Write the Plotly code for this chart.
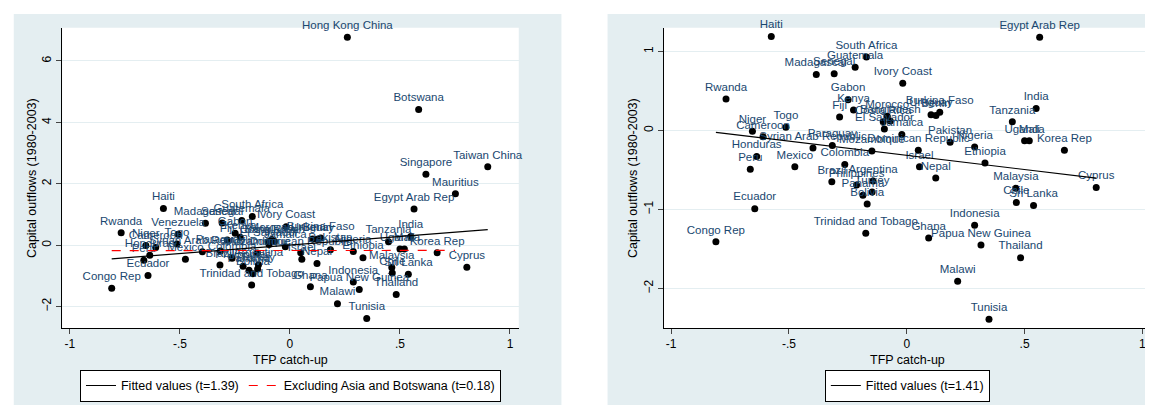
import numpy as np
import plotly.graph_objects as go

# Countries shown in both panels: (TFP catch-up, capital outflows)
countries = ["Haiti", "Egypt Arab Rep", "South Africa", "Guatemala", "Senegal", "Madagascar",
             "Ivory Coast", "Rwanda", "Gabon", "Kenya", "Fiji", "Morocco", "Bangladesh",
             "Burkina Faso", "Uruguay", "Benin", "India", "Tanzania", "Costa Rica", "El Salvador",
             "Jamaica", "Syrian Arab Republic", "Niger", "Togo", "Cameroon", "Honduras", "Peru",
             "Mexico", "Paraguay", "Mozambique", "Dominican Republic", "Pakistan", "Nigeria",
             "Uganda", "Mali", "Korea Rep", "Colombia", "Israel", "Nepal", "Ethiopia", "Brazil",
             "Argentina", "Philippines", "Turkey", "Panama", "Bolivia", "Malaysia", "Chile",
             "Sri Lanka", "Cyprus", "Ecuador", "Congo Rep", "Trinidad and Tobago", "Indonesia",
             "Ghana", "Papua New Guinea", "Thailand", "Malawi", "Tunisia"]
tfp = [-0.575, 0.564, -0.171, -0.219, -0.308, -0.384, -0.017, -0.767, -0.249, -0.226, -0.285,
       -0.083, -0.07, 0.14, 0.103, 0.124, 0.549, 0.448, -0.10, -0.095, -0.021, -0.398, -0.655,
       -0.513, -0.61, -0.637, -0.664, -0.475, -0.316, -0.148, 0.049, 0.184, 0.288, 0.50, 0.52,
       0.669, -0.263, 0.054, 0.123, 0.332, -0.318, -0.143, -0.213, -0.147, -0.186, -0.168,
       0.463, 0.465, 0.538, 0.804, -0.645, -0.81, -0.174, 0.288, 0.093, 0.315, 0.483, 0.216, 0.349]
outflows = [1.19, 1.18, 0.93, 0.80, 0.72, 0.71, 0.60, 0.40, 0.39, 0.26, 0.17, 0.18, 0.12, 0.23,
            0.20, 0.19, 0.28, 0.11, 0.11, 0.02, -0.05, -0.22, -0.01, 0.04, -0.08, -0.33, -0.49,
            -0.46, -0.19, -0.26, -0.25, -0.15, -0.21, -0.13, -0.13, -0.25, -0.43, -0.46, -0.60,
            -0.41, -0.65, -0.64, -0.69, -0.78, -0.82, -0.93, -0.73, -0.91, -0.95, -0.72, -0.99,
            -1.41, -1.30, -1.20, -1.36, -1.45, -1.61, -1.91, -2.39]

# Extra countries only in the left panel
extra_countries = ["Hong Kong China", "Botswana", "Taiwan China", "Singapore", "Mauritius", "Venezuela"]
extra_tfp = [0.261, 0.585, 0.899, 0.618, 0.752, -0.508]
extra_outflows = [6.77, 4.42, 2.55, 2.31, 1.67, 0.35]

asia = ["India", "Korea Rep", "Malaysia", "Thailand", "Indonesia", "Philippines", "Sri Lanka",
        "Nepal", "Pakistan", "Bangladesh", "Fiji", "Papua New Guinea",
        "Hong Kong China", "Taiwan China", "Singapore", "Botswana"]

NAVY = "#1a476f"
BG = "#e4eef1"

left_names = countries + extra_countries
left_x = np.array(tfp + extra_tfp)
left_y = np.array(outflows + extra_outflows)
right_x = np.array(tfp)
right_y = np.array(outflows)

fig = go.Figure()

def labelled(x, y, names, xa, ya):
    return go.Scatter(x=x, y=y, text=names, mode="markers+text", textposition="top center",
                      textfont=dict(color=NAVY, size=11.5, family="Arial"),
                      marker=dict(color="black", size=7), showlegend=False,
                      xaxis=xa, yaxis=ya, hoverinfo="text", cliponaxis=False)

def fit_line(x, y, x_end=None):
    b, a = np.polyfit(x, y, 1)
    xs = np.array([x.min(), x.max() if x_end is None else x_end])
    return xs, a + b * xs

fig.add_trace(labelled(left_x, left_y, left_names, "x", "y"))
fx, fy = fit_line(left_x, left_y)
fig.add_trace(go.Scatter(x=fx, y=fy, mode="lines", line=dict(color="black", width=1.2),
                         name="Fitted values (t=1.39)", xaxis="x", yaxis="y", legend="legend"))
mask = np.array([n not in asia for n in left_names])
ex, ey = fit_line(left_x[mask], left_y[mask], 0.75)
fig.add_trace(go.Scatter(x=ex, y=ey, mode="lines", line=dict(color="red", width=1.2, dash="dash"),
                         name="Excluding Asia and Botswana (t=0.18)", xaxis="x", yaxis="y", legend="legend"))

fig.add_trace(labelled(right_x, right_y, countries, "x2", "y2"))
rx, ry = fit_line(right_x, right_y)
fig.add_trace(go.Scatter(x=rx, y=ry, mode="lines", line=dict(color="black", width=1.2),
                         name="Fitted values (t=1.41)", xaxis="x2", yaxis="y2", legend="legend2"))

tickvals = [-1, -0.5, 0, 0.5, 1]
ticktext = ["-1", "-.5", "0", ".5", "1"]
xcommon = dict(tickvals=tickvals, ticktext=ticktext, ticks="outside", ticklen=5, showgrid=False,
               zeroline=False, showline=True, linecolor="black", linewidth=1,
               tickfont=dict(size=12, color="black"))
ycommon = dict(ticks="outside", ticklen=5, showgrid=True, gridcolor=BG, gridwidth=1.2,
               zeroline=False, showline=True, linecolor="black", linewidth=1, tickangle=-90,
               tickfont=dict(size=12, color="black"))

title_font = dict(size=12.5, color="black", family="Arial")
annotations = [
    dict(text="TFP catch-up", xref="paper", yref="paper", x=0.245, y=1 - 352 / 405, showarrow=False,
         font=title_font, xanchor="center", yanchor="middle"),
    dict(text="TFP catch-up", xref="paper", yref="paper", x=0.78, y=1 - 352 / 405, showarrow=False,
         font=title_font, xanchor="center", yanchor="middle"),
    dict(text="Capital outflows (1980-2003)", xref="paper", yref="paper", x=24 / 1153, y=0.58,
         textangle=-90, showarrow=False, font=title_font, xanchor="center", yanchor="middle"),
    dict(text="Capital outflows (1980-2003)", xref="paper", yref="paper", x=625 / 1153, y=0.58,
         textangle=-90, showarrow=False, font=title_font, xanchor="center", yanchor="middle"),
]

fig.update_layout(
    width=1153, height=405, autosize=False,
    margin=dict(l=0, r=0, t=0, b=0),
    paper_bgcolor="white", plot_bgcolor="white",
    font=dict(family="Arial"),
    xaxis=dict(xcommon, domain=[0.047, 0.443], range=[-1.035, 1.04], anchor="y"),
    yaxis=dict(ycommon, domain=[0.21, 0.951], range=[-2.7, 7.08], tickvals=[-2, 0, 2, 4, 6], anchor="x"),
    xaxis2=dict(xcommon, domain=[0.569, 0.99], range=[-1.03, 1.03], anchor="y2"),
    yaxis2=dict(ycommon, domain=[0.21, 0.951], range=[-2.5, 1.3], tickvals=[-2, -1, 0, 1], anchor="x2"),
    legend=dict(orientation="h", x=0.245, xanchor="center", y=0.067, yanchor="middle",
                bgcolor="white", bordercolor="black", borderwidth=1, font=dict(size=12.5, color="black")),
    legend2=dict(orientation="h", x=0.78, xanchor="center", y=0.067, yanchor="middle",
                 bgcolor="white", bordercolor="black", borderwidth=1, font=dict(size=12.5, color="black")),
    annotations=annotations,
    shapes=[
        dict(type="rect", xref="paper", yref="paper", x0=0.005, x1=0.48, y0=0.01, y1=0.985,
             fillcolor=BG, line_width=0, layer="below"),
        dict(type="rect", xref="paper", yref="paper", x0=0.52, x1=0.997, y0=0.01, y1=0.985,
             fillcolor=BG, line_width=0, layer="below"),
        dict(type="rect", xref="paper", yref="paper", x0=0.047, x1=0.443, y0=0.21, y1=0.951,
             fillcolor="white", line_width=0, layer="below"),
        dict(type="rect", xref="paper", yref="paper", x0=0.569, x1=0.99, y0=0.21, y1=0.951,
             fillcolor="white", line_width=0, layer="below"),
    ],
)

fig.write_html("out.html")
